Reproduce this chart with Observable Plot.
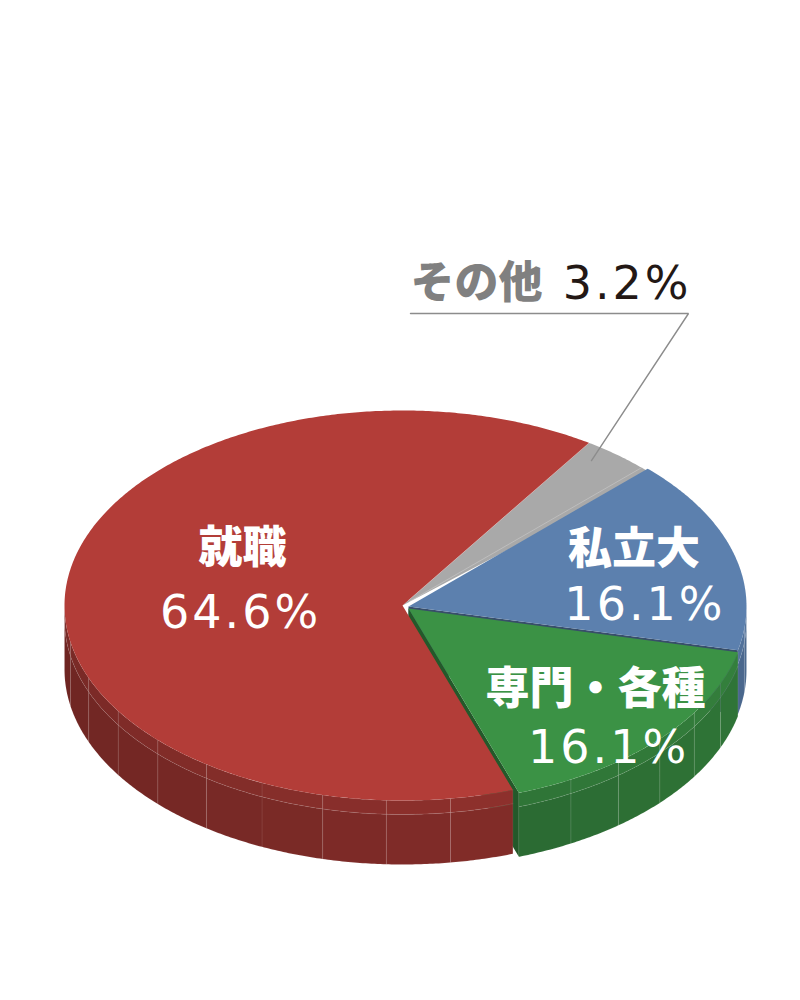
<!DOCTYPE html>
<html><head><meta charset="utf-8">
<script src="https://cdn.jsdelivr.net/npm/d3@7"></script>
<script src="https://cdn.jsdelivr.net/npm/@observablehq/plot@0.6"></script>
<style>body{margin:0;background:#fff} #chart svg{display:block} .num text{letter-spacing:3px}</style>
</head><body><div id="chart"></div>
<script>
// ---- data (clockwise, starting at the back-right) ----
const categories = ["その他", "私立大", "専門・各種", "就職"];
const values = [3.2, 16.1, 16.1, 64.6];
const valueLabels = ["3.2%", "16.1%", "16.1%", "64.6%"];
const topColors = ["#a9a9a9", "#5c80ae", "#3b9245", "#b33d38"];

// ---- geometry ----
const CX = 405, CY = 606, RX = 338, RY = 195, DEPTH = 64, BAND = 14;
const START_ANGLE = 33.5;
const shift = {"その他": [-3, -1], "私立大": [3, 0], "専門・各種": [3, 2], "就職": [-3, -1]};
const labelR = {"その他": 0.93, "私立大": 0.7, "専門・各種": 0.8, "就職": 0.48};
// label tweaks: [dxName, dyName, dxValue, dyValue]
const labelTweak = {"私立大": [-2, -19, 9, 36], "専門・各種": [-14, -23, -1, 35], "就職": [1, -45, -1, 20]};
const rad = d => d * Math.PI / 180;

let acc = START_ANGLE;
const slices = categories.map((c, i) => {
  const a0 = acc, a1 = acc + values[i] * 3.6; acc = a1;
  return {c, i, a0, a1, cx: CX + shift[c][0], cy: CY + shift[c][1], color: topColors[i]};
});
const P = (s, a, r = 1, dz = 0) => [s.cx + RX * r * Math.sin(rad(a)), s.cy - RY * r * Math.cos(rad(a)) + dz];

const faces = [], walls = [], tops = [], edges = [];
let pid = 0;
function add(layer, pts, fill) {
  const id = pid++;
  [...pts, pts[0]].forEach(([x, y]) => layer.push({id, x, y, fill}));
}

// radial (cut) faces visible at trailing edges of the front slices
slices.filter(s => s.c === "私立大" || s.c === "専門・各種").forEach(s => {
  add(faces, [P(s, s.a1, 0, 0), P(s, s.a1, 1, 0), P(s, s.a1, 1, DEPTH), P(s, s.a1, 0, DEPTH)],
      d3.color(s.color).darker(1.4).formatHex());
});

// outer walls (front half only), faceted
slices.forEach(s => {
  const lo = Math.max(s.a0, 90), hi = Math.min(s.a1, 270);
  if (hi <= lo) return;
  const n = Math.ceil((hi - lo) / 11);
  for (let k = 0; k < n; k++) {
    const t0 = lo + (hi - lo) * k / n, t1 = lo + (hi - lo) * (k + 1) / n;
    const arc = d3.range(t0, t1, 0.5).concat([t1]);
    const tm = ((t0 + t1) / 2 - 90) / 180;
    const kd = 0.55 + 0.85 * tm;
    add(walls, [...arc.map(a => P(s, a, 1, 0)), ...arc.slice().reverse().map(a => P(s, a, 1, BAND))],
        d3.color(s.color).darker(kd - 0.25).formatHex());
    add(walls, [...arc.map(a => P(s, a, 1, BAND)), ...arc.slice().reverse().map(a => P(s, a, 1, DEPTH))],
        d3.color(s.color).darker(kd).formatHex());
  }
});

// top faces (the thin back slice reaches a little under its neighbour to close the seam)
slices.forEach(s => {
  const end = s.c === "その他" ? s.a1 + 2.5 : s.a1;
  const arc = d3.range(s.a0, end, 0.5).concat([end]);
  add(tops, [P(s, 0, 0), ...arc.map(a => P(s, a, 1, 0))], s.color);
});
// faint light seams on slice boundaries
slices.filter(s => s.c === "その他").forEach(s => {
  [s.a0, s.a1].forEach(a => { const id = pid++; [P(s, a, 0.03), P(s, a, 1)].forEach(([x, y]) => edges.push({id, x, y})); });
});

// labels
const inner = slices.filter(s => s.c !== "その他").map(s => {
  const m = (s.a0 + s.a1) / 2, [x, y] = P(s, m, labelR[s.c]);
  const t = labelTweak[s.c];
  return {nx: x + t[0], ny: y + t[1], vx: x + t[2], vy: y + t[3], name: s.c, value: valueLabels[s.i]};
});
const other = slices.find(s => s.c === "その他");
const [lx, ly] = P(other, other.a0 + (other.a1 - other.a0) * 0.3, labelR["その他"]);
const OTHER_LEFT = 410, OTHER_RIGHT = 688, OTHER_LINE = 313;
const leader = [{x: OTHER_LEFT, y: OTHER_LINE}, {x: OTHER_RIGHT, y: OTHER_LINE}, {x: lx, y: ly}];

const jp = "'Noto Sans CJK JP', sans-serif";
const num = "'DejaVu Sans', sans-serif";

const chart = Plot.plot({
  width: 800, height: 1000, margin: 0,
  x: {domain: [0, 800], range: [0, 800], axis: null},
  y: {domain: [0, 1000], range: [0, 1000], axis: null},
  color: {type: "identity"},
  marks: [
    Plot.line(faces, {x: "x", y: "y", z: "id", fill: "fill", stroke: "none"}),
    Plot.line(walls, {x: "x", y: "y", z: "id", fill: "fill", stroke: "#ffffff", strokeOpacity: 0.12, strokeWidth: 0.6}),
    Plot.line(tops, {x: "x", y: "y", z: "id", fill: "fill", stroke: "none"}),
    Plot.line(edges, {x: "x", y: "y", z: "id", stroke: "#ffffff", strokeOpacity: 0.3, strokeWidth: 0.8}),
    Plot.line(leader, {x: "x", y: "y", stroke: "#8c8c8c", strokeWidth: 1.4, strokeLinejoin: "miter"}),
    Plot.text(inner, {x: "nx", y: "ny", text: "name", fill: "#ffffff", fontSize: 44, fontWeight: 900, fontFamily: jp}),
    Plot.text(inner, {x: "vx", y: "vy", text: "value", fill: "#ffffff", fontSize: 46, fontWeight: 400, fontFamily: num, className: "num"}),
    Plot.text([other], {x: OTHER_LEFT, y: OTHER_LINE - 30, text: d => d.c, fill: "#808080", fontSize: 44, fontWeight: 900, fontFamily: jp, textAnchor: "start"}),
    Plot.text([other], {x: OTHER_RIGHT + 3, y: OTHER_LINE - 29, text: d => valueLabels[d.i], fill: "#231815", fontSize: 46, fontWeight: 400, fontFamily: num, textAnchor: "end", className: "num"})
  ]
});
document.getElementById("chart").append(chart);
</script>
</body></html>
